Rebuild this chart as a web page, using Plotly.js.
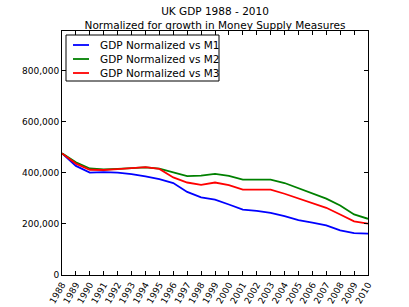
<!DOCTYPE html>
<html>
<head>
<meta charset="utf-8">
<script src="https://cdn.plot.ly/plotly-3.0.1.min.js"></script>
<style>html,body{margin:0;padding:0;background:#fff;}#chart{width:409px;height:307px;}</style>
</head>
<body>
<div id="chart"></div>
<script>
const years = [1988,1989,1990,1991,1992,1993,1994,1995,1996,1997,1998,1999,2000,2001,2002,2003,2004,2005,2006,2007,2008,2009,2010];
const yearLabels = years.map(String);
const gdpVsM1 = [476000,427000,401000,403000,401000,395000,386000,375000,360000,325000,304000,295000,276000,256000,251000,243000,230000,215000,205000,194000,175000,164000,162000];
const gdpVsM2 = [476000,441000,417000,413000,415000,418000,421000,416000,403000,387000,389000,396000,388000,373000,373000,373000,360000,340000,321000,299000,272000,237000,220000];
const gdpVsM3 = [476000,436000,412000,411000,414000,419000,422000,415000,382000,362000,353000,362000,352000,334000,334000,334000,318000,300000,282000,263000,237000,210000,201000];
const seriesNames = ['GDP Normalized vs M1','GDP Normalized vs M2','GDP Normalized vs M3'];
const yTicks = [0,200000,400000,600000,800000];

const colors = ['#0000ff','#008000','#ff0000'];
const data = [gdpVsM1, gdpVsM2, gdpVsM3].map((ys, i) => ({
  x: years, y: ys, type: 'scatter', mode: 'lines', name: seriesNames[i],
  line: {color: colors[i], width: 1.8}, showlegend: false
}));

const font = {family: 'DejaVu Sans, sans-serif', color: '#000'};

// plot area in pixels
const L = 62, R = 41, T = 31, B = 32, W = 409, H = 307;
const pw = W - L - R, ph = H - T - B;
const px = x => (x - L) / pw;
const py = y => (H - B - y) / ph;

// legend (matplotlib style box)
const shapes = [{
  type: 'rect', xref: 'paper', yref: 'paper',
  x0: px(66), x1: px(219), y0: py(81), y1: py(35),
  line: {color: '#000', width: 1}, fillcolor: '#fff', layer: 'above'
}];
const annotations = [];
seriesNames.forEach((name, i) => {
  const yc = 45 + i * 14;
  shapes.push({type: 'line', xref: 'paper', yref: 'paper',
    x0: px(73), x1: px(89), y0: py(yc), y1: py(yc),
    line: {color: colors[i], width: 1.8}, layer: 'above'});
  annotations.push({xref: 'paper', yref: 'paper', x: px(98), y: py(yc),
    xanchor: 'left', yanchor: 'middle', showarrow: false, text: name,
    font: Object.assign({}, font, {size: 10.5})});
});

const layout = {
  width: W, height: H,
  margin: {l: L, r: R, t: T, b: B},
  paper_bgcolor: '#fff', plot_bgcolor: '#fff',
  font: Object.assign({size: 9}, font),
  showlegend: false,
  title: {
    text: 'UK GDP 1988 - 2010<br>Normalized for growth in Money Supply Measures',
    font: Object.assign({}, font, {size: 10.5}),
    x: 215/409, xanchor: 'center', y: (H - 15) / H, yanchor: 'bottom'
  },
  shapes: shapes,
  annotations: annotations,
  xaxis: {
    range: [1988, 2010],
    tickmode: 'array', tickvals: years, ticktext: yearLabels,
    tickangle: -60,
    ticks: 'inside', ticklen: 4, tickcolor: '#000', tickwidth: 1,
    showline: true, linecolor: '#000', linewidth: 1, mirror: 'ticks',
    showgrid: false, zeroline: false,
    ticklabelstandoff: 0,
    tickfont: Object.assign({}, font, {size: 9})
  },
  yaxis: {
    range: [0, 955000],
    tickmode: 'array', tickvals: yTicks,
    tickformat: ',d',
    ticks: 'inside', ticklen: 4, tickcolor: '#000', tickwidth: 1,
    showline: true, linecolor: '#000', linewidth: 1, mirror: 'ticks',
    showgrid: false, zeroline: false,
    tickfont: Object.assign({}, font, {size: 9})
  }
};
Plotly.newPlot('chart', data, layout, {displayModeBar: false, staticPlot: true});
</script>
</body>
</html>
